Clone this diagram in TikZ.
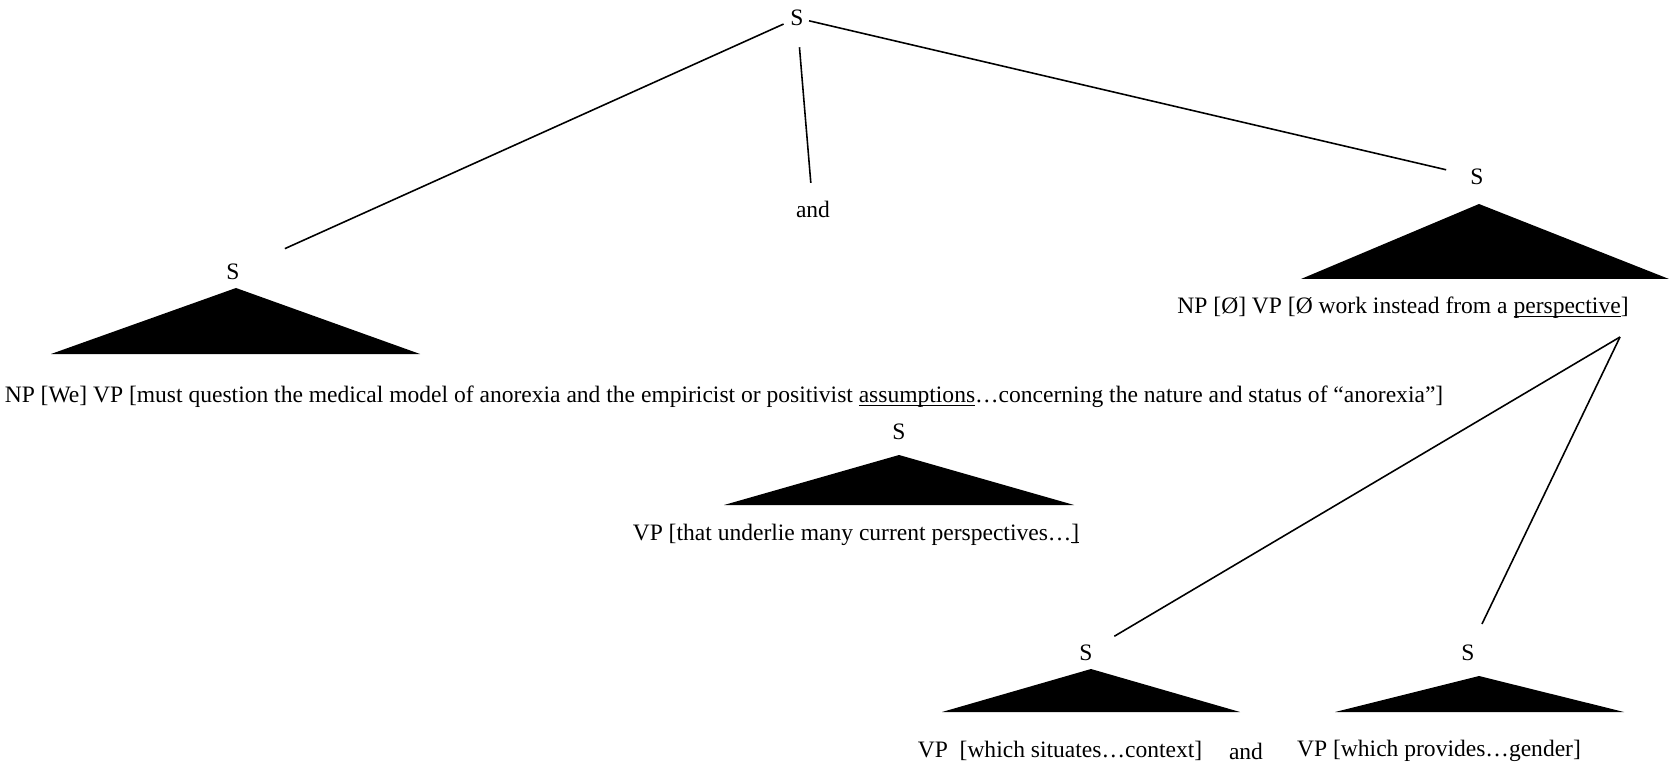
\documentclass[tikz,border=0pt]{standalone}
\usepackage{fontspec}
\setmainfont{Liberation Serif}
\usetikzlibrary{calc}

% underline sitting close to the baseline
\newcommand{\uln}[1]{\setbox0\hbox{#1}\rlap{\rule[-1.6pt]{\wd0}{0.6pt}}\box0}

\tikzset{
  cat/.style={inner sep=1pt, font=\fontsize{13.4pt}{15pt}\selectfont},
  leaf/.style={inner sep=1pt, font=\fontsize{13.4pt}{15pt}\selectfont},
  branch/.style={line width=0.9pt},
}

\begin{document}
\begin{tikzpicture}[x=0.02cm, y=-0.02cm]
      \useasboundingbox (0,0) rectangle (1669,763);

      \node[cat] (S0) at (797,18) {S};
      \node[leaf] (and0) at (813,209) {and};

      \node[cat] (S1) at (233,272) {S};
      \fill (236,288) -- (420,354) -- (51,354) -- cycle;
      \node[leaf] (VP1) at (724,397) {NP [We] VP [must question the medical model of anorexia and the empiricist or positivist \uln{assumptions}…concerning the nature and status of “anorexia”]};

      \node[cat] (S2) at (899,432) {S};
      \fill (899,455) -- (1074,505) -- (724,505) -- cycle;
      \node[leaf] (VP2) at (856,535) {VP [that underlie many current perspectives…\uln{]}};

      \node[cat] (S3) at (1477,177) {S};
      \fill (1479,204) -- (1669,279) -- (1301,279) -- cycle;
      \node[leaf] (VP3) at (1403,308) {NP [Ø] VP [Ø work instead from a \uln{perspective}]};
      \coordinate (fork) at (1620,337);

      \node[cat] (S4) at (1086,653) {S};
      \fill (1091,669) -- (1240,712) -- (942,712) -- cycle;
      \node[leaf] (VP4) at (1060,751) {VP\ \ [which situates…context]};
      \node[leaf] (and1) at (1246,751) {and};

      \node[cat] (S5) at (1468,653) {S};
      \fill (1479,676) -- (1624,712) -- (1335,712) -- cycle;
      \node[leaf] (VP5) at (1439,751) {VP [which provides…gender]};

      \draw [branch, shorten <=3pt, shorten >=27pt] (S0) to (S1);
      \draw [branch, shorten <=11pt, shorten >=9pt] (S0) to (and0);
      \draw [branch, shorten <=2pt, shorten >=13pt] (S0) to (S3);
      \draw [branch, shorten >=13pt] (fork) to (S4);
      \draw [branch, shorten >=12pt] (fork) to (S5);
  \end{tikzpicture}
\end{document}
